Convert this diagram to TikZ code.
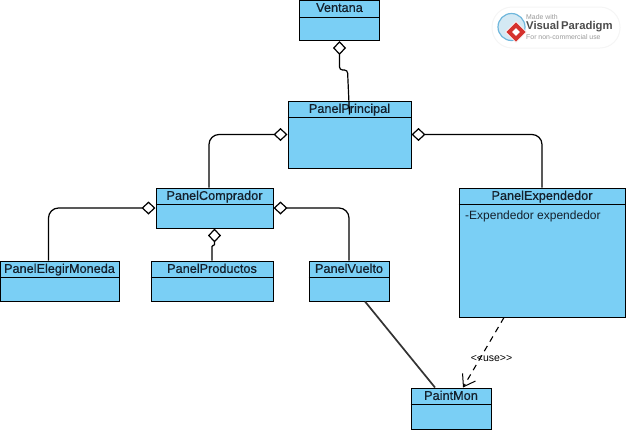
\documentclass[tikz,border=0pt]{standalone}
\usepackage{fontspec}
\setmainfont{Liberation Sans}
\usetikzlibrary{arrows.meta,shapes.geometric}
\definecolor{classfill}{HTML}{7ACFF5}
\definecolor{classtext}{HTML}{14202C}
\definecolor{logogray}{HTML}{9A9A9A}
\definecolor{logored}{HTML}{D5322E}
\definecolor{logoblue}{HTML}{6FB7DC}
% #1 name, #2 centre, #3 width, #4 height, #5 title
\newcommand{\umlclass}[5]{%
\node[box,minimum width=#3pt,minimum height=#4pt] (#1) at (#2) {};
\node[title] (#1title) at (#1.north) {#5};
\draw[boxline] ([yshift=-17pt]#1.north west) -- ([yshift=-17pt]#1.north east);}
\begin{document}
\begin{tikzpicture}[x=1pt,y=-1pt,
box/.style={draw=black,fill=classfill,line width=1pt,inner sep=0pt},
boxline/.style={black,line width=1pt},
title/.style={anchor=north,inner sep=0pt,yshift=-3pt,text=classtext,font=\fontsize{12.7}{14}\selectfont\addfontfeature{FakeBold=.6}},
aggr/.style={{Diamond[open,length=14pt,width=13pt,line width=1.2pt]}-,line width=1.2pt,rounded corners=10pt},
lab/.style={font=\fontsize{10.5}{12}\selectfont,inner sep=0pt,text=black}]
\useasboundingbox (0,0) rectangle (626,429);
\umlclass{ventana}{339.5,20.5}{80}{40}{Ventana}
\umlclass{principal}{349.5,134.5}{123}{67}{PanelPrincipal}
\umlclass{comprador}{214.5,208}{117}{40}{PanelComprador}
\umlclass{expendedor}{542,252.5}{166}{129}{PanelExpendedor}
\umlclass{elegir}{59.5,281}{119}{40}{PanelElegirMoneda}
\umlclass{productos}{212,281}{122}{40}{PanelProductos}
\umlclass{vuelto}{349,281}{80}{40}{PanelVuelto}
\umlclass{paint}{451,408.5}{80}{41}{PaintMon}
\node[lab,anchor=west,font=\fontsize{12}{14}\selectfont,text=classtext] (campo) at (465,216.5) {-Expendedor expendedor};
% aggregations
\draw[aggr,rounded corners=3pt] (ventana.south) -- ++(0,29) -- ++(8,0) -- ([yshift=-14pt]principal.north);
\draw[aggr] (principal.west) -| ([xshift=-5.5pt]comprador.north);
\draw[aggr] (principal.east) -| (expendedor.north);
\draw[aggr] (comprador.west) -| ([xshift=-11pt]elegir.north);
\draw[aggr] (comprador.east) -| (vuelto.north);
\draw[aggr,rounded corners=1pt] (comprador.south) -- ++(0,17) -- ++(-2.5,0) -- (productos.north);
% associations
\draw[line width=1.7pt,black!80] ([xshift=16pt]vuelto.south) -- ([xshift=-16pt]paint.north);
\draw[-{Straight Barb[length=11pt,width=15pt,line width=1pt]},dashed,line width=1.1pt,dash pattern=on 6pt off 5pt] ([xshift=-38pt]expendedor.south) -- ([xshift=12pt]paint.north);
\node[lab] (uselab) at (491.5,358) {<{}<use>{}>};
% logo
\node[fill=white,draw=black!4,line width=1pt,rounded corners=20pt,minimum width=128pt,minimum height=41pt,inner sep=0pt] (logo) at (556,27.5) {};
\node[circle,draw=logoblue,fill=logoblue!30,line width=1.2pt,minimum size=27pt,inner sep=0pt] (globe) at (511.5,27) {};
\node[diamond,fill=logored,draw=white,line width=.8pt,minimum size=21pt,inner sep=0pt] (mark) at (516,32) {};
\node[diamond,fill=white,minimum size=8pt,inner sep=0pt] (markin) at (mark) {};
\node[anchor=west,inner sep=0pt,text=logogray,font=\fontsize{6.9}{8}\selectfont] (made) at (526,17.5) {Made with};
\node[anchor=west,inner sep=0pt,text=black!70,font=\fontsize{11.3}{14}\selectfont\bfseries] (vp) at (526,27) {Visual\,Paradigm};
\node[anchor=west,inner sep=0pt,text=logogray,font=\fontsize{6.9}{8}\selectfont] (nc) at (526,37) {For non-commercial use};
\end{tikzpicture}
\end{document}
